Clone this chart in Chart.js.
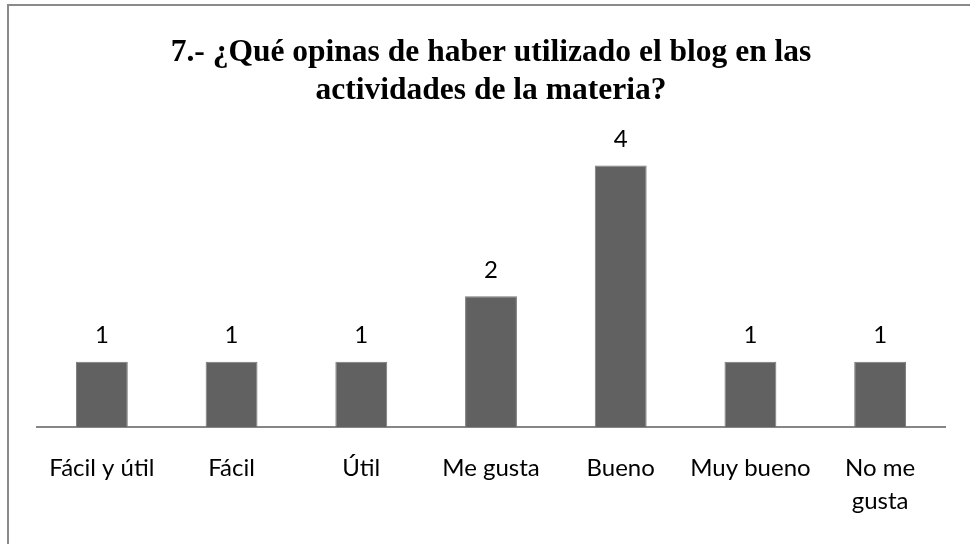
<!DOCTYPE html>
<html>
<head>
<meta charset="utf-8">
<script src="https://cdn.jsdelivr.net/npm/chart.js@4.4.1/dist/chart.umd.min.js"></script>
<style>
  html, body { margin: 0; padding: 0; background: #fff; }
  #wrap { width: 970px; height: 544px; position: relative; }
</style>
</head>
<body>
<div id="wrap"><canvas id="grafica" width="970" height="544"></canvas></div>
<script>
// datos de la pregunta 7
var categorias = ["Fácil y útil", "Fácil", "Útil", "Me gusta", "Bueno", "Muy bueno", ["No me", "gusta"]];
var respuestas = [1, 1, 1, 2, 4, 1, 1];
var titulo = ["7.- ¿Qué opinas de haber utilizado el blog en las", "actividades de la materia?"];

// marco gris (solo izquierda y arriba se ven en el original)
var marco = {
    id: 'marco',
    beforeDraw: function(chart) {
        var c = chart.ctx;
        c.save();
        c.fillStyle = '#fff';
        c.fillRect(0, 0, chart.width, chart.height);
        c.strokeStyle = '#8a8a8a';
        c.lineWidth = 2;
        c.beginPath();
        c.moveTo(8, chart.height);
        c.lineTo(8, 5);
        c.lineTo(chart.width, 5);
        c.stroke();
        c.restore();
    }
};

// numeros encima de cada barra
var etiquetas = {
    id: 'etiquetas',
    afterDatasetsDraw: function(chart) {
        var c = chart.ctx;
        var meta = chart.getDatasetMeta(0);
        c.save();
        c.font = '24px Lato';
        c.fillStyle = '#000';
        c.textAlign = 'center';
        c.textBaseline = 'middle';
        meta.data.forEach(function(bar, i) {
            c.fillText(respuestas[i], bar.x, bar.y - 26);
        });
        c.restore();
    }
};

var ctx = document.getElementById("grafica");
var grafica = new Chart(ctx, {
    type: 'bar',
    data: {
        labels: categorias,
        datasets: [{
            data: respuestas,
            backgroundColor: '#616161',
            borderColor: '#7a7a7a',
            borderWidth: 1,
            categoryPercentage: 1,
            barPercentage: 0.4
        }]
    },
    options: {
        responsive: false,
        animation: false,
        layout: { padding: { left: 37, right: 25, top: 0, bottom: 1 } },
        plugins: {
            legend: { display: false },
            tooltip: { enabled: false },
            title: {
                display: true,
                text: titulo,
                color: '#000',
                font: { family: 'Liberation Serif', size: 31.5, weight: 'bold', lineHeight: 1.206 },
                padding: { top: 34, bottom: 0 }
            }
        },
        scales: {
            x: {
                grid: { display: false, drawTicks: false },
                border: { color: '#868686', width: 2 },
                ticks: {
                    color: '#000',
                    font: { family: 'Lato', size: 24, lineHeight: 1.375 },
                    padding: 25,
                    maxRotation: 0,
                    autoSkip: false
                }
            },
            y: {
                display: false,
                min: 0,
                max: 4.85
            }
        }
    },
    plugins: [marco, etiquetas]
});
</script>
</body>
</html>
